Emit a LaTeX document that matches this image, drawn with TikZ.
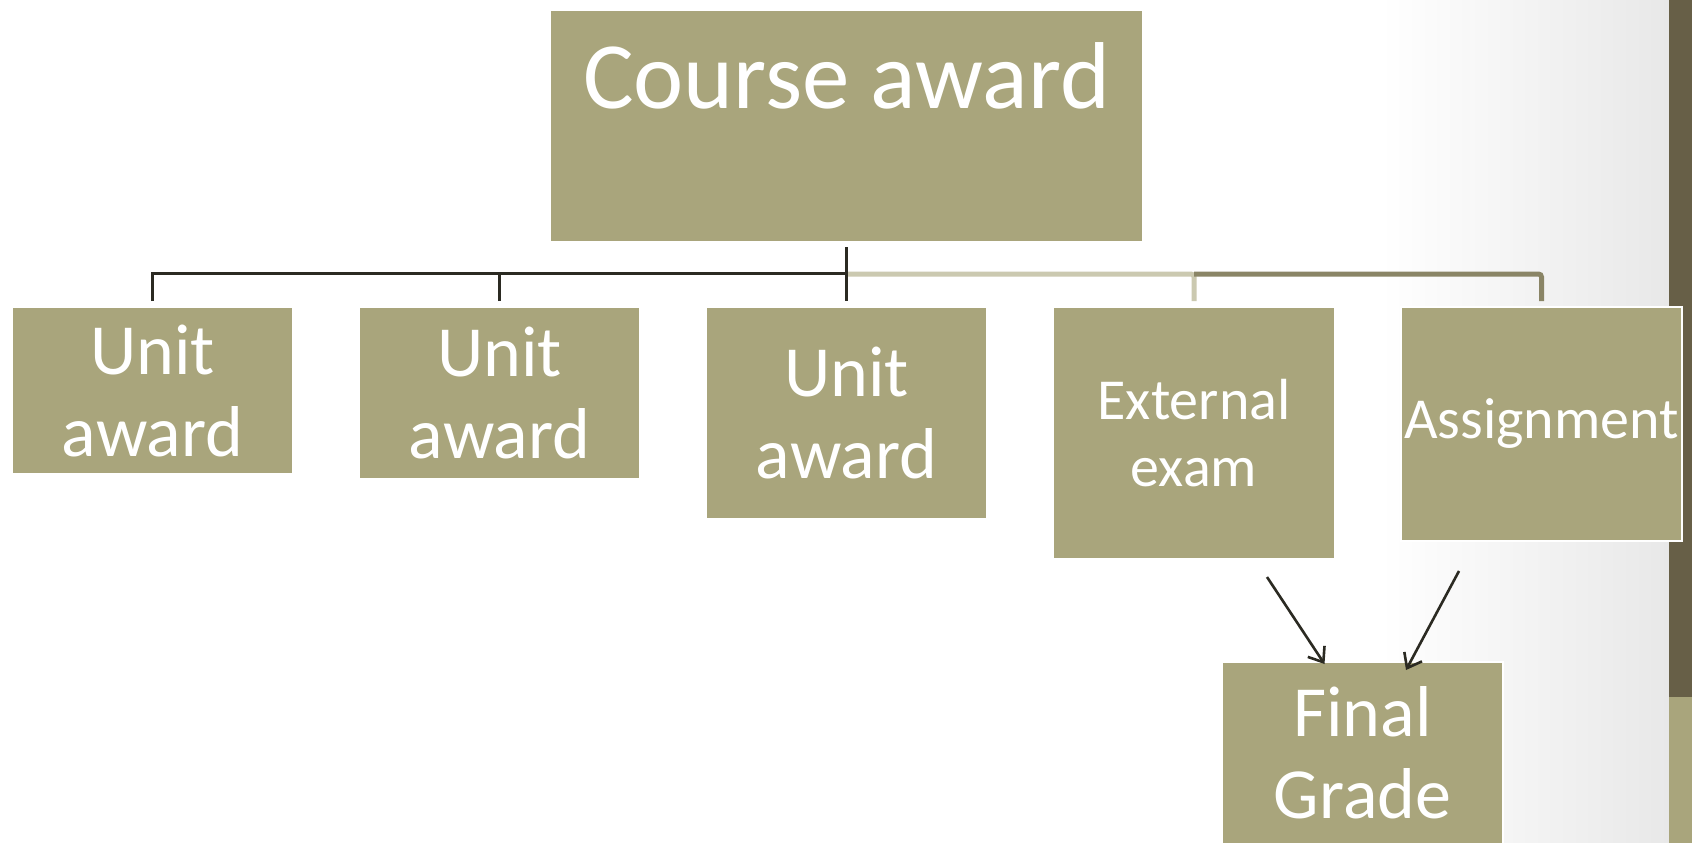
\documentclass[tikz,border=0pt]{standalone}
\usepackage{fontspec}
\setmainfont{Carlito}
\usetikzlibrary{arrows.meta}
\definecolor{boxc}{HTML}{A9A57C}
\definecolor{band}{HTML}{675F47}
\definecolor{dk}{HTML}{2B2A22}
\definecolor{lt}{HTML}{CBC9B0}
\definecolor{ol}{HTML}{8A8566}
\begin{document}
\begin{tikzpicture}[x=1pt,y=-1pt,
 box/.style={draw=white, line width=2pt, fill=boxc, inner sep=0pt, anchor=north west, text=white, align=center},
 big/.style={font=\fontsize{72}{82}\selectfont},
 mid/.style={font=\fontsize{58}{67}\selectfont},
 dkline/.style={draw=dk, line width=3pt},
 ltline/.style={draw=lt, line width=5pt, rounded corners=3pt},
 olline/.style={draw=ol, line width=5pt, rounded corners=3pt},
 arr/.style={draw=dk, line width=2.6pt, -{Straight Barb[length=13pt,width=20pt]}}]
\useasboundingbox (0,0) rectangle (1692,843);
\fill[white] (0,0) rectangle (1692,843);
\shade[left color=white, right color=black!9] (1380,0) rectangle (1669,843);
\fill[band] (1669,0) rectangle (1692,697);
\fill[boxc] (1669,697) rectangle (1692,843);

\node[box, minimum width=593pt, minimum height=232pt] (course) at (549,9) {};
\node[text=white, font=\fontsize{95}{100}\selectfont, anchor=base, inner sep=0pt] (coursetxt) at ([yshift=-99pt]course.north) {Course award};

\node[box, big, minimum width=281pt, minimum height=167pt] (u1) at (11,306) {Unit\\award};
\node[box, big, minimum width=281pt, minimum height=172pt] (u2) at (358,306) {Unit\\award};
\node[box, big, minimum width=281pt, minimum height=212pt] (u3) at (705,306) {Unit\\award};
\node[box, mid, minimum width=282pt, minimum height=252pt] (ext) at (1052,306) {External\\exam};
\node[box, mid, minimum width=281pt, minimum height=234pt] (asg) at (1400,306) {Assignment};
\node[box, big, minimum width=281pt, minimum height=182pt] (final) at (1221,661) {Final\\Grade};

\coordinate (hub) at (845.5,273.5);
\coordinate (hubR) at (846,274);
\draw[ltline] (hubR) -| ([yshift=5pt]ext.north);
\draw[olline] (ext.north |- hubR) -| ([yshift=5pt]asg.north);
\draw[dkline] ([yshift=-4pt]course.south) -- ([yshift=5pt]u3.north);
\draw[dkline] ([yshift=5pt]u1.north) |- (hub);
\draw[dkline] ([yshift=5pt]u2.north) -- (u2.north |- hub);

\coordinate (a1s) at (1267,577);
\coordinate (a2s) at (1459,571);
\draw[arr] (a1s) -- ([xshift=-38pt,yshift=-3pt]final.north);
\draw[arr] (a2s) -- ([xshift=43.5pt,yshift=-9pt]final.north);
\end{tikzpicture}
\end{document}
